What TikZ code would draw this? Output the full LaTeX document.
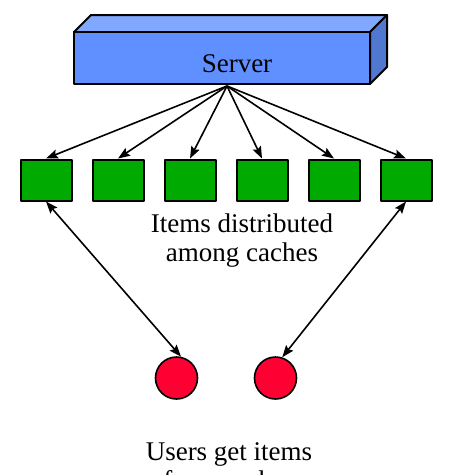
\documentclass[tikz,border=0pt]{standalone}
\usepackage{fontspec}
\setmainfont{Liberation Serif}
\usetikzlibrary{arrows.meta}
\definecolor{srvfront}{RGB}{96,144,255}
\definecolor{srvtop}{RGB}{128,168,255}
\definecolor{srvside}{RGB}{80,120,208}
\definecolor{cachegreen}{RGB}{0,170,0}
\definecolor{userred}{RGB}{255,0,51}
\tikzset{
  cachebox/.style={draw, line width=2pt, fill=cachegreen, minimum width=51pt, minimum height=41pt, inner sep=0pt},
  userdot/.style={draw, circle, line width=1.6pt, fill=userred, minimum size=42pt, inner sep=0pt},
  link/.style={line width=1.6pt},
  lbl/.style={align=center, font=\fontsize{27}{29}\selectfont}
}
\begin{document}
\begin{tikzpicture}[x=1pt, y=-1pt, >={Stealth[length=12pt,width=9pt,inset=2pt]}, line join=round]
			\useasboundingbox (0,0) rectangle (455,475);
			% server block
			\filldraw[fill=srvtop, line width=2pt] (74,32)--(91,15)--(387,15)--(370,32)--cycle;
			\filldraw[fill=srvside, line width=2pt] (370,32)--(387,15)--(387,67)--(370,84)--cycle;
			\filldraw[fill=srvfront, line width=2pt] (74,32) rectangle (370,84);
			\node[lbl, anchor=base] (srv) at (237,72) {Server};
			\coordinate (hub) at (227,86);
			% caches
			\node[cachebox] (c1) at (46,180) {};
			\node[cachebox] (c2) at (118,180) {};
			\node[cachebox] (c3) at (190,180) {};
			\node[cachebox] (c4) at (262,180) {};
			\node[cachebox] (c5) at (334,180) {};
			\node[cachebox] (c6) at (406,180) {};
			\draw[->, link] (hub)--(c1.north);
			\draw[->, link] (hub)--(c2.north);
			\draw[->, link] (hub)--(c3.north);
			\draw[->, link] (hub)--(c4.north);
			\draw[->, link] (hub)--(c5.north);
			\draw[->, link] (hub)--(c6.north);
			\node[lbl] (items) at (242,241) {Items distributed\\among caches};
			% users
			\node[userdot] (u1) at (176.5,378) {};
			\node[userdot] (u2) at (275.5,378) {};
			\draw[<->, link] (c1.south)--(u1.78);
			\draw[<->, link] (c6.south)--(u2.72);
			\node[lbl] (users) at (229,466) {Users get items\\from caches};
		\end{tikzpicture}
\end{document}
